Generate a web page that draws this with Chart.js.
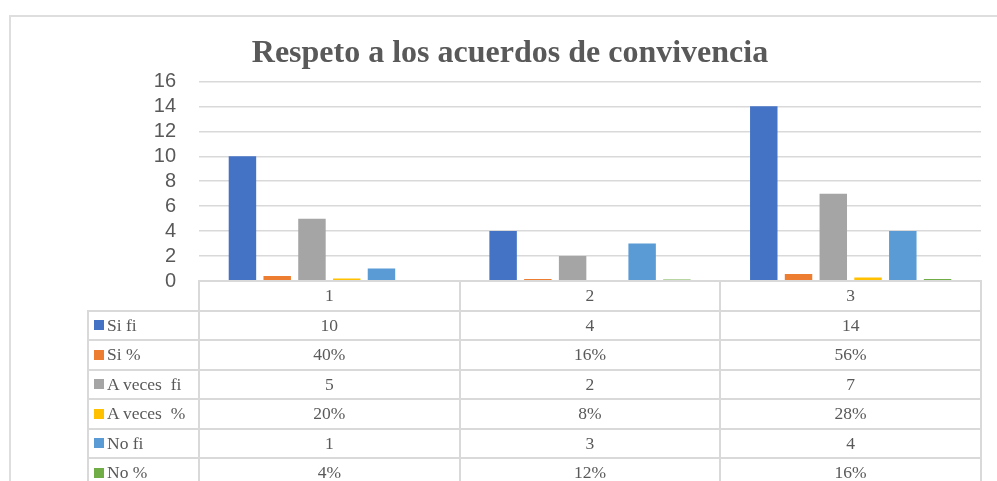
<!DOCTYPE html>
<html>
<head>
<meta charset="utf-8">
<script src="https://cdn.jsdelivr.net/npm/chart.js@4"></script>
<style>
body { margin: 0; background: #fff; }
#wrap { position: relative; width: 997px; height: 481px; overflow: hidden; background: #fff; }
#frame { position: absolute; left: 9px; top: 15px; right: -2px; bottom: -2px; border-left: 2px solid #dedede; border-top: 2px solid #dedede; }
canvas { position: absolute; left: 0; top: 0; }
#tabla div { position: absolute; }
.hl { height: 2px; background: #d9d9d9; }
.vl { width: 2px; background: #d9d9d9; }
.celda { font: 17.5px "Liberation Serif", "Times New Roman", serif; color: #595959; text-align: center; white-space: pre; }
.leyenda { font: 17.5px "Liberation Serif", "Times New Roman", serif; color: #595959; white-space: pre; }
.clave { width: 10px; height: 10px; }
</style>
</head>
<body>
<div id="wrap">
  <div id="frame"></div>
  <canvas id="grafico" width="997" height="481"></canvas>
  <div id="tabla"></div>
</div>
<script>
const categorias = ['1', '2', '3'];
const nombresSeries = ['Si fi', 'Si %', 'A veces  fi', 'A veces  %', 'No fi', 'No %'];
const siFi = [10, 4, 14];
const siPct = [0.40, 0.16, 0.56];
const aVecesFi = [5, 2, 7];
const aVecesPct = [0.20, 0.08, 0.28];
const noFi = [1, 3, 4];
const noPct = [0.04, 0.12, 0.16];
const ticksY = [0, 2, 4, 6, 8, 10, 12, 14, 16];

const valores = [siFi, siPct, aVecesFi, aVecesPct, noFi, noPct];
const esPorcentaje = [false, true, false, true, false, true];
const colores = ['#4472C4', '#ED7D31', '#A5A5A5', '#FFC000', '#5B9BD5', '#70AD47'];

const ctx = document.getElementById('grafico').getContext('2d');
const chart = new Chart(ctx, {
    type: 'bar',
    data: {
        labels: categorias,
        datasets: nombresSeries.map((n, i) => ({
            label: n,
            data: valores[i],
            backgroundColor: colores[i],
            categoryPercentage: 0.8,
            barPercentage: 0.79
        }))
    },
    options: {
        responsive: false,
        animation: false,
        layout: { padding: { left: 39, right: 16, top: 27, bottom: 200 } },
        plugins: {
            legend: { display: false },
            tooltip: { enabled: false },
            title: {
                display: true,
                text: 'Respeto a los acuerdos de convivencia',
                color: '#595959',
                font: { family: '"Liberation Serif", "Times New Roman", serif', size: 32, weight: 'bold' },
                padding: { top: 8, bottom: 8 }
            }
        },
        scales: {
            x: { display: false },
            y: {
                min: 0,
                max: 16,
                afterFit(scale) { scale.width = 160; },
                afterBuildTicks(scale) { scale.ticks = ticksY.map(v => ({ value: v })); },
                ticks: {
                    autoSkip: false,
                    color: '#595959',
                    padding: 23,
                    font: { family: '"Liberation Sans", Arial, sans-serif', size: 20 }
                },
                grid: { color: '#d9d9d9', lineWidth: 1.5, drawTicks: false },
                border: { display: false }
            }
        }
    }
});

// tabla de datos debajo del grafico
const area = chart.chartArea;
const sx = chart.scales.x;
const tabla = document.getElementById('tabla');
const altoFila = 29.5;
const izqTabla = 88;
const bordes = [area.left];
categorias.forEach((c, i) => {
    const w = sx.width / categorias.length;
    bordes.push(sx.getPixelForValue(i) + w / 2);
});

function linea(cls, x, y, len) {
    const d = document.createElement('div');
    d.className = cls;
    d.style.left = (x - 1) + 'px';
    d.style.top = (y - 1) + 'px';
    if (cls === 'hl') d.style.width = (len + 2) + 'px';
    else d.style.height = (len + 2) + 'px';
    tabla.appendChild(d);
}
function texto(cls, t, x, y, w) {
    const d = document.createElement('div');
    d.className = cls;
    d.textContent = t;
    d.style.left = x + 'px';
    d.style.top = y + 'px';
    d.style.width = w + 'px';
    d.style.height = altoFila + 'px';
    d.style.lineHeight = altoFila + 'px';
    tabla.appendChild(d);
    return d;
}

const top0 = area.bottom;
const top1 = top0 + altoFila;
const fondo = top1 + altoFila * nombresSeries.length;
linea('hl', area.left, top0, area.right - area.left);
for (let r = 0; r <= nombresSeries.length; r++) {
    linea('hl', izqTabla, top1 + r * altoFila, area.right - izqTabla);
}
linea('vl', izqTabla, top1, fondo - top1);
bordes.forEach(b => linea('vl', b, top0, fondo - top0));

categorias.forEach((c, i) => {
    texto('celda', c, bordes[i], top0, bordes[i + 1] - bordes[i]);
});
nombresSeries.forEach((n, r) => {
    const y = top1 + r * altoFila;
    const k = document.createElement('div');
    k.className = 'clave';
    k.style.background = colores[r];
    k.style.left = '94px';
    k.style.top = (y + altoFila / 2 - 5) + 'px';
    tabla.appendChild(k);
    texto('leyenda', n, 107, y, area.left - 107);
    valores[r].forEach((v, i) => {
        const t = esPorcentaje[r] ? Math.round(v * 100) + '%' : String(v);
        texto('celda', t, bordes[i], y, bordes[i + 1] - bordes[i]);
    });
});
</script>
</body>
</html>
